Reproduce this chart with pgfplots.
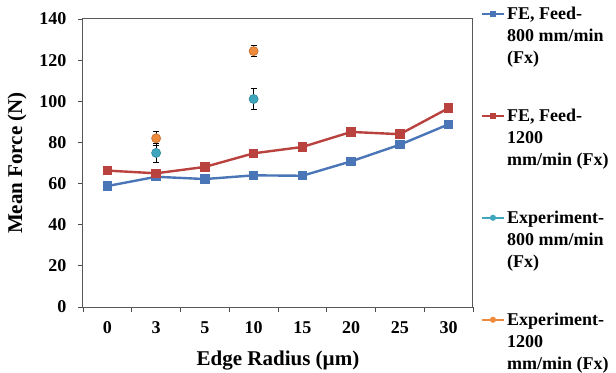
\documentclass[border=0pt]{standalone}
\usepackage{pgfplots}
\pgfplotsset{compat=1.18}
\usepackage{fontspec}
\setmainfont{Liberation Serif}

\definecolor{feblue}{HTML}{4A76B8}
\definecolor{fered}{HTML}{B9423F}
\definecolor{exteal}{HTML}{3FA7BD}
\definecolor{exorange}{HTML}{EE8A3C}

% FE simulations: mean force vs. edge radius (category index 0..7)
\pgfplotstableread{
x y
0 58.8
1 63.3
2 62.2
3 64.0
4 63.8
5 70.8
6 78.9
7 88.8
}\feeight
\pgfplotstableread{
x y
0 66.3
1 65.0
2 68.1
3 74.7
4 77.8
5 85.1
6 84.0
7 96.7
}\fetwelve
% Experiments with error bars
\pgfplotstableread{
x y e
1 74.9 4.8
3 101.1 5.0
}\exeight
\pgfplotstableread{
x y e
1 82.0 3.3
3 124.4 2.7
}\extwelve

% legend key: short line with a small marker, level with the first text line
\pgfplotsset{
  keyline/.style n args={2}{legend image code/.code={
    \draw[#1, line width=2.2bp] (0bp,22bp) -- (22bp,22bp);
    \path[fill=#1] (11bp,22bp) #2;
  }},
}

\begin{document}
\begin{tikzpicture}
\begin{axis}[
  name=ax,
  scale only axis,
  width=390bp, height=288bp,
  xmin=-0.5, xmax=7.5,
  ymin=0, ymax=140,
  ytick={0,20,...,140},
  xtick={-0.5,0.5,...,7.5},
  x tick label as interval,
  xticklabels={0,3,5,10,15,20,25,30},
  tick align=outside,
  xtick pos=bottom, ytick pos=left,
  major tick length=5bp,
  tick style={black!70, line width=0.8bp},
  axis line style={black!65, line width=1bp},
  /pgf/number format/assume math mode=true,
  tick label style={font=\fontsize{18bp}{22bp}\selectfont\bfseries},
  yticklabel style={xshift=-8bp},
  xticklabel style={yshift=-6bp},
  label style={font=\fontsize{21bp}{25bp}\selectfont\bfseries},
  xlabel={Edge Radius (µm)},
  ylabel={Mean Force (N)},
  xlabel style={at={(0.5,0)}, anchor=center, yshift=-54bp},
  ylabel style={at={(0,0.5)}, anchor=center, rotate=0, yshift=66bp},
  legend style={
    at={(1.012,1.05)}, anchor=north west,
    draw=none, fill=none,
    font=\fontsize{18bp}{22bp}\selectfont\bfseries,
    nodes={align=left, inner sep=0pt, inner xsep=2bp},
    row sep=44bp,
  },
  legend cell align=left,
]
\addplot[feblue, line width=2.4bp, mark=square*, mark size=3.5bp,
  keyline={feblue}{+(-2bp,-2bp) rectangle +(2bp,2bp)}]
  table[x=x, y=y] {\feeight};
\addlegendentry{FE, Feed-\\800 mm/min\\(Fx)}
\addplot[fered, line width=2.4bp, mark=square*, mark size=3.5bp,
  keyline={fered}{+(-2bp,-2bp) rectangle +(2bp,2bp)}]
  table[x=x, y=y] {\fetwelve};
\addlegendentry{FE, Feed-\\1200\\mm/min (Fx)}
\addplot[exteal, only marks, mark=*, mark size=4.5bp,
  mark options={draw=exteal!85!black, line width=0.8bp},
  keyline={exteal}{circle[radius=2.8bp]},
  error bars/.cd, y dir=both, y explicit,
  error bar style={black, line width=0.8bp},
  error mark options={rotate=90, mark size=3bp, black, line width=0.8bp}]
  table[x=x, y=y, y error=e] {\exeight};
\addlegendentry{Experiment-\\800 mm/min\\(Fx)}
\addplot[exorange, only marks, mark=*, mark size=4.5bp,
  mark options={draw=exorange!85!black, line width=0.8bp},
  keyline={exorange}{circle[radius=2.8bp]},
  error bars/.cd, y dir=both, y explicit,
  error bar style={black, line width=0.8bp},
  error mark options={rotate=90, mark size=3bp, black, line width=0.8bp}]
  table[x=x, y=y, y error=e] {\extwelve};
\addlegendentry{Experiment-\\1200\\mm/min (Fx)}
\end{axis}
\pgfresetboundingbox
\path (ax.south west) ++(-83bp,-66bp) rectangle ++(616bp,373bp);
\end{tikzpicture}
\end{document}
